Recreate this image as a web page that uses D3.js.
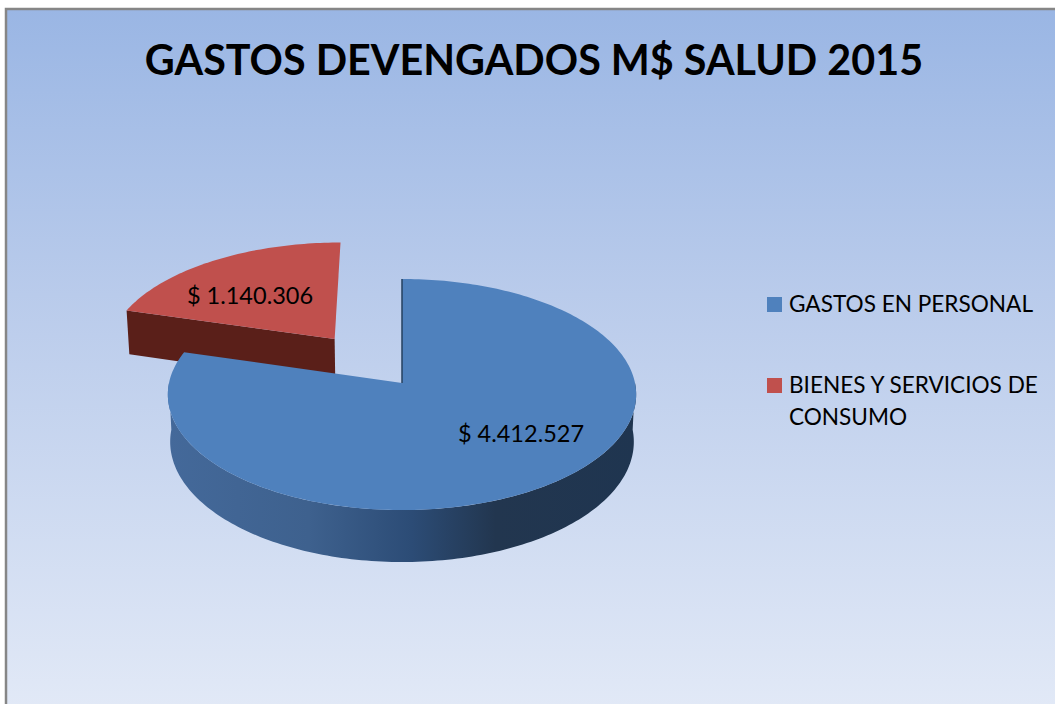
<!DOCTYPE html>
<html>
<head>
<meta charset="utf-8">
<script src="https://cdn.jsdelivr.net/npm/d3@7"></script>
<style>
  html, body { margin: 0; padding: 0; background: #fff; }
  svg { display: block; }
  text { font-family: Lato, "Open Sans", sans-serif; fill: #000; }
</style>
</head>
<body>
<svg id="chart" width="1055" height="704"></svg>
<script>
var categories = ["GASTOS EN PERSONAL", "BIENES Y SERVICIOS DE CONSUMO"];
var values = [4412527, 1140306];
var valueLabels = ["$ 4.412.527", "$ 1.140.306"];
var chartTitle = "GASTOS DEVENGADOS M$ SALUD 2015";

const width = 1055, height = 704;
const colors = ["#4f81bd", "#c0504d"];
const cx = 402, cy = 383;
const radiusX = 233, radiusY = 114.4;
const persp = 0.0996;      // how much nearer the front of the disc looks
const depth = 46.8;        // thickness of the disc
const explode = [0, 0.5];  // slice pull out

const svg = d3.select("#chart");
const defs = svg.append("defs");

const bg = defs.append("linearGradient").attr("id", "bg")
  .attr("x1", 0).attr("y1", 0).attr("x2", 0).attr("y2", 1);
bg.append("stop").attr("offset", "0%").attr("stop-color", "#9ab6e4");
bg.append("stop").attr("offset", "40%").attr("stop-color", "#b9cbeb");
bg.append("stop").attr("offset", "100%").attr("stop-color", "#e3eaf7");

const side = defs.append("linearGradient").attr("id", "side")
  .attr("x1", 0).attr("y1", 0).attr("x2", 1).attr("y2", 0);
side.append("stop").attr("offset", "0%").attr("stop-color", "#44699a");
side.append("stop").attr("offset", "30%").attr("stop-color", "#3e618e");
side.append("stop").attr("offset", "52%").attr("stop-color", "#2c4c76");
side.append("stop").attr("offset", "70%").attr("stop-color", "#22364f");
side.append("stop").attr("offset", "100%").attr("stop-color", "#1f3550");

// frame
svg.append("rect")
  .attr("x", 6).attr("y", 9)
  .attr("width", width + 10).attr("height", height + 10)
  .attr("fill", "url(#bg)")
  .attr("stroke", "#868686")
  .attr("stroke-width", 2.5);

svg.append("text")
  .attr("x", 534)
  .attr("y", 75)
  .attr("text-anchor", "middle")
  .attr("font-size", 41.3)
  .attr("font-weight", 700)
  .text(chartTitle);

const x = d3.scaleLinear().domain([-1, 1]).range([cx - radiusX, cx + radiusX]);
const y = d3.scaleLinear().domain([-1, 1]).range([cy - radiusY, cy + radiusY]);
const xBottom = d3.scaleLinear().domain([-1, 1]).range([cx - radiusX * 0.99, cx + radiusX * 0.99]);

// plane coordinates -> screen, v is positive towards the viewer
function project(u, v, bottom) {
  const w = 1 / (1 - persp * v);
  return [
    (bottom ? xBottom : x)(u * w),
    y(v * w) + (bottom ? depth * w : 0)
  ];
}

const pie = d3.pie().sort(null).startAngle(0).endAngle(2 * Math.PI);
const arcs = pie(values);

function offset(d) {
  const mid = (d.startAngle + d.endAngle) / 2;
  const e = explode[d.index];
  return [e * Math.sin(mid), -e * Math.cos(mid)];
}

function rimPoint(d, a, bottom) {
  const o = offset(d);
  return project(o[0] + Math.sin(a), o[1] - Math.cos(a), bottom);
}

function angles(a0, a1) {
  const n = Math.ceil(Math.abs(a1 - a0) / 0.02);
  return d3.range(n + 1).map(function (i) { return a0 + (a1 - a0) * i / n; });
}

const line = d3.line();

function topFace(d) {
  const o = offset(d);
  const pts = [project(o[0], o[1], false)];
  angles(d.startAngle, d.endAngle).forEach(function (a) { pts.push(rimPoint(d, a, false)); });
  return line(pts) + "Z";
}

const red = arcs[1], blue = arcs[0];

// red slice first, it sits behind the big one
const ro = offset(red);
svg.append("path")
  .attr("d", line([
    project(ro[0], ro[1], false),
    rimPoint(red, red.startAngle, false),
    rimPoint(red, red.startAngle, true),
    project(ro[0], ro[1], true)
  ]) + "Z")
  .attr("fill", "#5a1f19");
svg.append("path")
  .attr("d", topFace(red))
  .attr("fill", colors[1]);

// blue outer wall
const wallTop = angles(Math.PI / 2, Math.PI * 1.5).map(function (a) { return rimPoint(blue, a, false); });
const wallBottom = angles(Math.PI * 1.5, Math.PI / 2).map(function (a) { return rimPoint(blue, a, true); });
svg.append("path")
  .attr("d", line(wallTop.concat(wallBottom)) + "Z")
  .attr("fill", "url(#side)");
svg.append("path")
  .attr("d", topFace(blue))
  .attr("fill", colors[0]);

// dark sliver where the cut starts
svg.append("path")
  .attr("d", line([project(0, 0, false), rimPoint(blue, 0, false)]))
  .attr("stroke", "#24405f")
  .attr("stroke-width", 1.5)
  .attr("fill", "none");

// value labels
const labelPos = [[521, 442], [250, 304]];
svg.selectAll(".valueLabel")
  .data(valueLabels)
  .enter()
  .append("text")
  .attr("class", "valueLabel")
  .attr("x", (d, i) => labelPos[i][0])
  .attr("y", (d, i) => labelPos[i][1])
  .attr("text-anchor", "middle")
  .attr("font-size", 23.5)
  .text((d) => d);

// legend
const legendRows = [["GASTOS EN PERSONAL"], ["BIENES Y SERVICIOS DE", "CONSUMO"]];
const legendY = d3.scalePoint().domain(categories).range([297, 378]);
const legend = svg.selectAll(".legend")
  .data(categories)
  .enter()
  .append("g")
  .attr("class", "legend")
  .attr("transform", (d) => "translate(767," + legendY(d) + ")");
legend.append("rect")
  .attr("width", 15)
  .attr("height", 15)
  .attr("fill", (d, i) => colors[i]);
legend.each(function (d, i) {
  d3.select(this).selectAll("text")
    .data(legendRows[i])
    .enter()
    .append("text")
    .attr("x", 22)
    .attr("y", (t, j) => 15 + j * 32)
    .attr("font-size", 22.6)
    .text((t) => t);
});
</script>
</body>
</html>
